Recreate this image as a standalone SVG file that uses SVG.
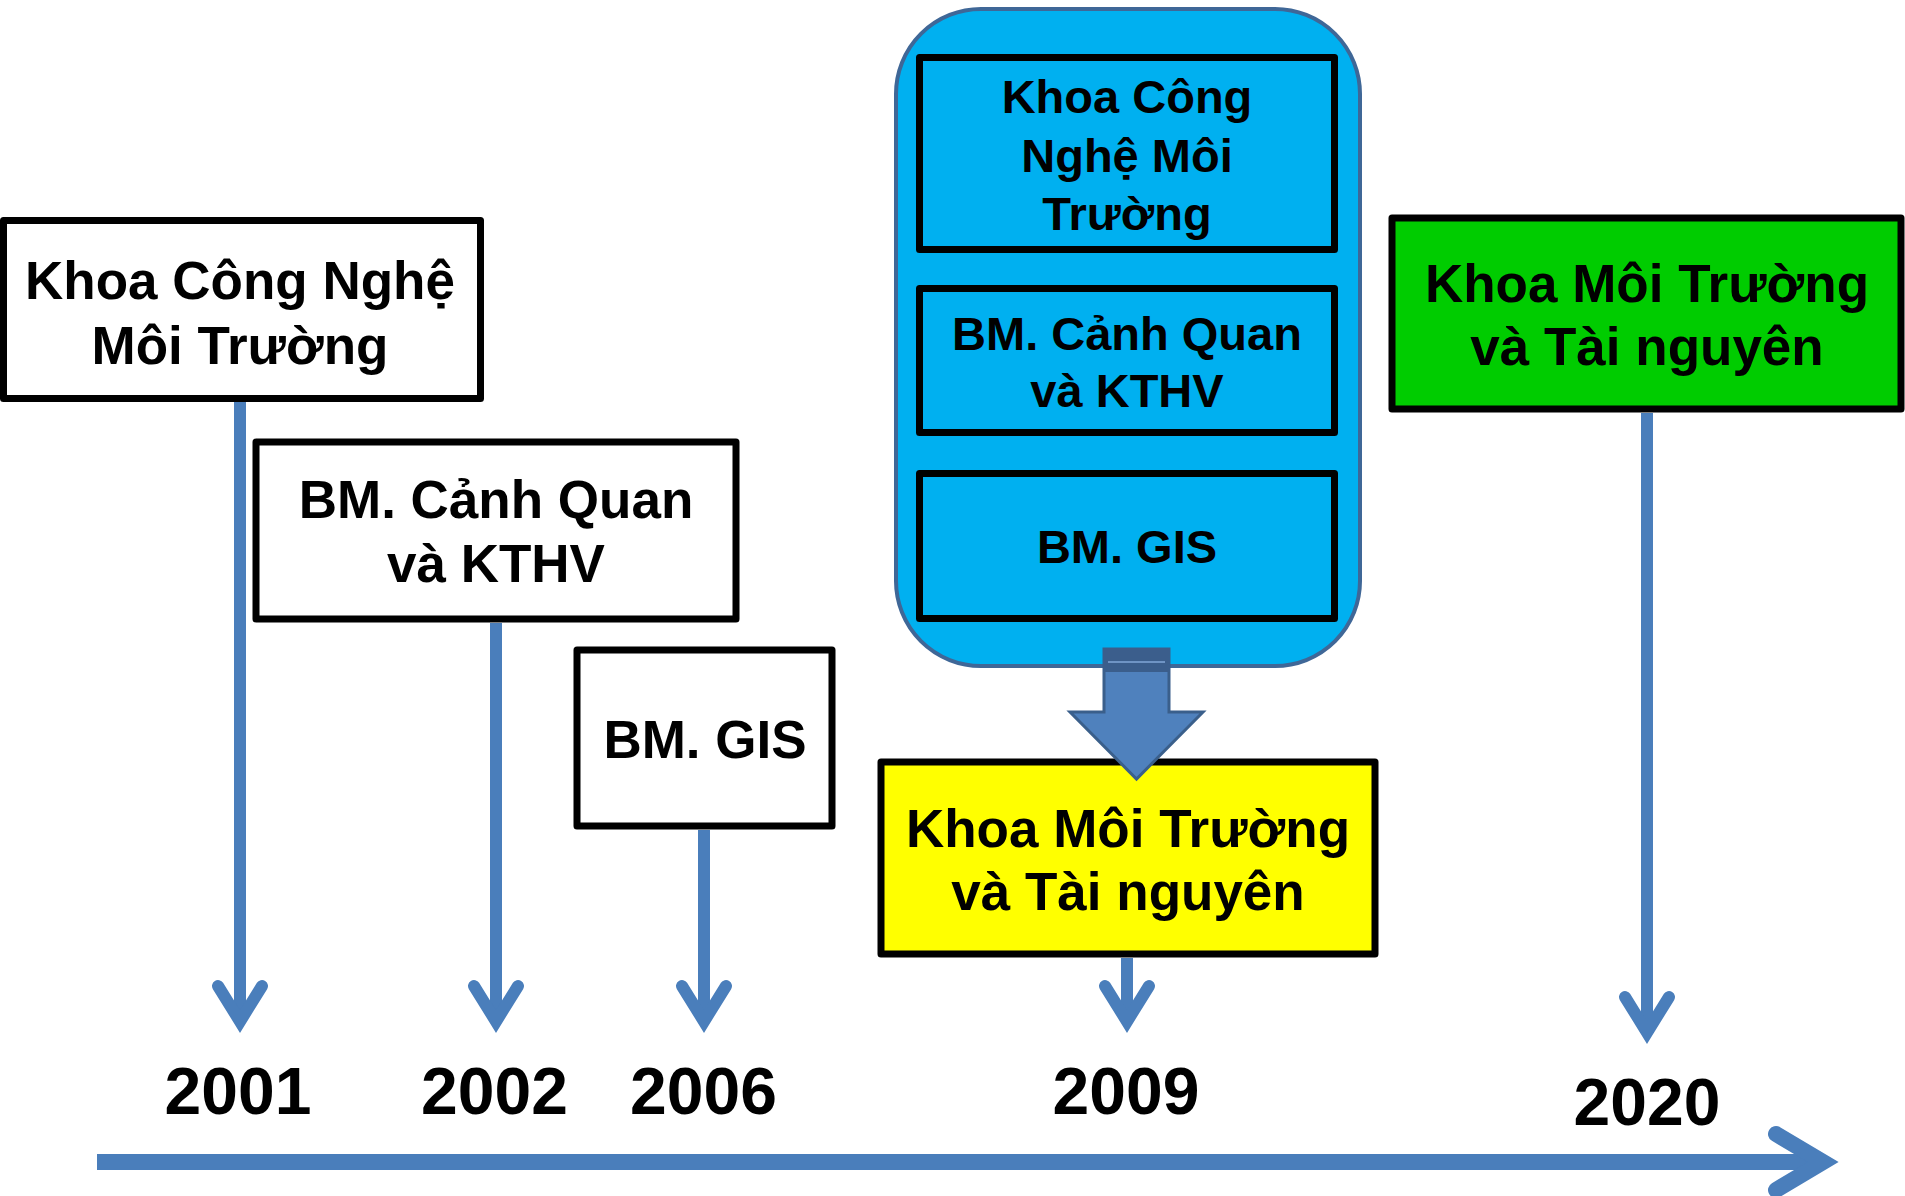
<svg xmlns="http://www.w3.org/2000/svg" width="1905" height="1196" viewBox="0 0 1905 1196">
<style>
.box{stroke:#000;stroke-width:7;stroke-linejoin:round}
.t{font-family:"Liberation Sans",Arial,sans-serif;font-weight:bold;fill:#000;text-anchor:middle}
.big{font-size:53px}
.small{font-size:47px}
.yr{font-size:66px}
.ln{fill:none;stroke:#4A7EBB;stroke-width:12;stroke-linecap:butt}
.hd{fill:none;stroke:#4A7EBB;stroke-width:12;stroke-linecap:round;stroke-linejoin:miter;stroke-miterlimit:10}
</style>
<rect width="1905" height="1196" fill="#fff"/>

<g id="connectors">
  <line class="ln" x1="240" y1="402" x2="240" y2="1021"/>
  <polyline class="hd" points="218,986 240,1021.5 262,986"/>
  <line class="ln" x1="496" y1="623" x2="496" y2="1021"/>
  <polyline class="hd" points="474,986 496,1021.5 518,986"/>
  <line class="ln" x1="704" y1="830" x2="704" y2="1021"/>
  <polyline class="hd" points="682,986 704,1021.5 726,986"/>
  <line class="ln" x1="1127" y1="958" x2="1127" y2="1021"/>
  <polyline class="hd" points="1105,986 1127,1021.5 1149,986"/>
  <line class="ln" x1="1647" y1="413" x2="1647" y2="1032"/>
  <polyline class="hd" points="1625,997 1647,1032.5 1669,997"/>
  <line x1="97" y1="1162" x2="1823" y2="1162" stroke="#4A7EBB" stroke-width="16"/>
  <polyline points="1776,1134 1823,1162 1776,1190" fill="none" stroke="#4A7EBB" stroke-width="16" stroke-linecap="round" stroke-linejoin="miter" stroke-miterlimit="10"/>
</g>

<g id="node-2001">
  <rect class="box" x="3.5" y="220.5" width="477" height="178" fill="#fff"/>
  <text class="t big" x="240" y="299">Khoa Công Nghệ</text>
  <text class="t big" x="240" y="364">Môi Trường</text>
</g>

<g id="node-2002">
  <rect class="box" x="256" y="442" width="480" height="177" fill="#fff"/>
  <text class="t big" x="496" y="518">BM. Cảnh Quan</text>
  <text class="t big" x="496" y="582">và KTHV</text>
</g>

<g id="node-2006">
  <rect class="box" x="577" y="650" width="255" height="176" fill="#fff"/>
  <text class="t big" x="705" y="758">BM. GIS</text>
</g>

<g id="node-group">
  <rect x="896" y="9" width="464" height="657" rx="85" ry="85" fill="#00B0F0" stroke="#3F6797" stroke-width="4"/>
  <rect class="box" x="919.5" y="57.5" width="415" height="192" fill="#00B0F0"/>
  <text class="t small" x="1127" y="113">Khoa Công</text>
  <text class="t small" x="1127" y="172">Nghệ Môi</text>
  <text class="t small" x="1127" y="230">Trường</text>
  <rect class="box" x="919.5" y="288.5" width="415" height="144" fill="#00B0F0"/>
  <text class="t small" x="1127" y="350">BM. Cảnh Quan</text>
  <text class="t small" x="1127" y="407">và KTHV</text>
  <rect class="box" x="919.5" y="473.5" width="415" height="145" fill="#00B0F0"/>
  <text class="t small" x="1127" y="563">BM. GIS</text>
</g>

<g id="node-2009">
  <rect class="box" x="881" y="762" width="494" height="192" fill="#FFFF00" stroke-width="8"/>
  <text class="t big" x="1128" y="847">Khoa Môi Trường</text>
  <text class="t big" x="1128" y="910">và Tài nguyên</text>
</g>

<g id="merge-arrow">
  <polygon points="1104,649 1169,649 1169,712 1203,712 1136.5,779 1070,712 1104,712" fill="#4F81BD" stroke="#3A5F8B" stroke-width="3" stroke-linejoin="miter"/>
  <rect x="1103" y="648" width="67" height="24" fill="#3B5E8C"/>
  <line x1="1108" y1="662" x2="1165" y2="662" stroke="#6F94C4" stroke-width="2"/>
</g>

<g id="node-2020">
  <rect class="box" x="1392" y="218" width="509" height="191" fill="#00CC00" stroke-width="8"/>
  <text class="t big" x="1647" y="302">Khoa Môi Trường</text>
  <text class="t big" x="1647" y="365">và Tài nguyên</text>
</g>

<g id="years">
  <text class="t yr" x="238" y="1114">2001</text>
  <text class="t yr" x="494.5" y="1114">2002</text>
  <text class="t yr" x="703.5" y="1114">2006</text>
  <text class="t yr" x="1126" y="1114">2009</text>
  <text class="t yr" x="1647" y="1125">2020</text>
</g>
</svg>
